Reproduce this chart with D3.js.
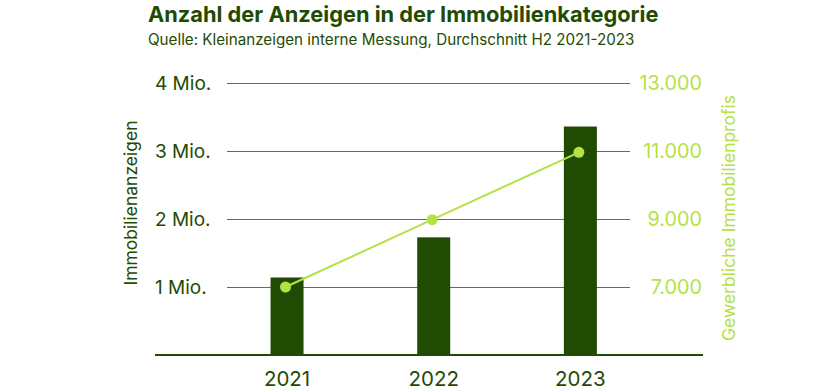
<!DOCTYPE html>
<html><head><meta charset="utf-8">
<script src="https://cdn.jsdelivr.net/npm/d3@7"></script>
<style>body{margin:0;background:#fff;} svg{display:block;font-family:Inter, "Open Sans", sans-serif;}</style>
</head><body>
<svg id="chart" width="820" height="390"></svg>
<script>
const years = ["2021", "2022", "2023"];
const listings = [1.14, 1.73, 3.36];          // Mio. Immobilienanzeigen
const profis = [7000, 8980, 10960];           // Gewerbliche Immobilienprofis
const leftTicks = [1, 2, 3, 4];
const leftTickLabels = ["1 Mio.", "2 Mio.", "3 Mio.", "4 Mio."];
const rightTicks = [7000, 9000, 11000, 13000];
const rightTickLabels = ["7.000", "9.000", "11.000", "13.000"];
const title = "Anzahl der Anzeigen in der Immobilienkategorie";
const subtitle = "Quelle: Kleinanzeigen interne Messung, Durchschnitt H2 2021-2023";
const leftTitle = "Immobilienanzeigen";
const rightTitle = "Gewerbliche Immobilienprofis";

const DARK = "#1f4b02", LIGHT = "#b5e145", GRID = "#56783f";
const svg = d3.select("#chart");

const x = d3.scaleBand().domain(years).range([213.7, 653.7]).paddingInner(0.775).paddingOuter(0.3875);
const yL = d3.scaleLinear().domain([0, 4]).range([355, 83]);
const yR = d3.scaleLinear().domain([5000, 13000]).range([355, 83]);

// title
svg.append("text").attr("x", 148).attr("y", 22).attr("fill", DARK)
  .attr("font-size", 21.8).attr("font-weight", 700).text(title);
svg.append("text").attr("x", 148).attr("y", 45).attr("fill", DARK)
  .attr("font-size", 15.2).text(subtitle);

// gridlines
const gridAxis = d3.axisLeft(yL).tickValues(leftTicks).tickSize(-(630 - 227)).tickFormat("");
const g = svg.append("g").attr("transform", "translate(227,0)").call(gridAxis);
g.select(".domain").remove();
g.selectAll(".tick line").attr("stroke", GRID).attr("stroke-width", 1);

// left tick labels
const la = d3.axisLeft(yL).tickValues(leftTicks).tickSize(0).tickFormat((d, i) => leftTickLabels[i]);
const gl = svg.append("g").attr("transform", "translate(155,0)").call(la);
gl.select(".domain").remove();
gl.selectAll("text").attr("text-anchor", "start").attr("x", 0).attr("fill", DARK)
  .attr("font-size", 19).attr("font-family", "Inter, sans-serif");

// right tick labels
const ra = d3.axisRight(yR).tickValues(rightTicks).tickSize(0).tickFormat((d, i) => rightTickLabels[i]);
const gr = svg.append("g").attr("transform", "translate(702,0)").call(ra);
gr.select(".domain").remove();
gr.selectAll("text").attr("text-anchor", "end").attr("x", 0).attr("fill", LIGHT)
  .attr("font-size", 19.8).attr("font-family", "Inter, sans-serif");

// bars
svg.append("g").selectAll("rect").data(years).join("rect")
  .attr("x", d => x(d)).attr("width", x.bandwidth())
  .attr("y", (d, i) => yL(listings[i])).attr("height", (d, i) => yL(0) - yL(listings[i]))
  .attr("fill", DARK);

// baseline
svg.append("line").attr("x1", 155).attr("x2", 703).attr("y1", yL(0)).attr("y2", yL(0))
  .attr("stroke", DARK).attr("stroke-width", 2);

// x axis labels
const xa = d3.axisBottom(x).tickSize(0);
const gx = svg.append("g").attr("transform", `translate(0,${yL(0)})`).call(xa);
gx.select(".domain").remove();
gx.selectAll("text").attr("dy", 0).attr("y", 31).attr("fill", DARK)
  .attr("font-size", 20.5).attr("font-family", "Inter, sans-serif");

// line
const cx = d => x(d) + x.bandwidth() / 2 - 1.5;
const line = d3.line().x((d, i) => cx(years[i])).y(d => yR(d));
svg.append("path").datum(profis).attr("d", line).attr("fill", "none")
  .attr("stroke", LIGHT).attr("stroke-width", 2);
svg.append("g").selectAll("circle").data(profis).join("circle")
  .attr("cx", (d, i) => cx(years[i])).attr("cy", d => yR(d)).attr("r", 5.5).attr("fill", LIGHT);

// axis titles
svg.append("text").attr("transform", "translate(137,203) rotate(-90)").attr("text-anchor", "middle")
  .attr("fill", DARK).attr("font-size", 17.5).text(leftTitle);
svg.append("text").attr("transform", "translate(735,218) rotate(-90)").attr("text-anchor", "middle")
  .attr("fill", LIGHT).attr("font-size", 17.5).text(rightTitle);
</script>
</body></html>
